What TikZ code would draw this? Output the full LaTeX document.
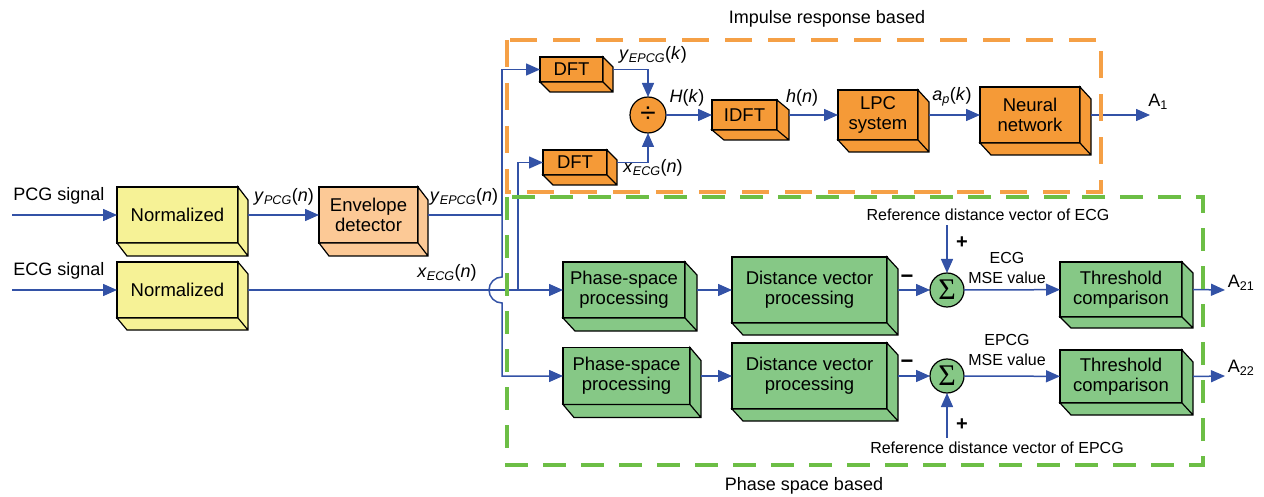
\documentclass[tikz,border=0pt]{standalone}
\usepackage{fontspec}
\setmainfont{Liberation Sans}
\newfontfamily\serifgreek{Liberation Serif}
\usetikzlibrary{arrows.meta}
\definecolor{pcgyellow}{RGB}{246,242,150}
\definecolor{envorange}{RGB}{252,201,150}
\definecolor{boxorange}{RGB}{245,154,55}
\definecolor{boxgreen}{RGB}{134,200,134}
\definecolor{flowblue}{RGB}{51,82,166}
\definecolor{dashorange}{RGB}{245,160,70}
\definecolor{dashgreen}{RGB}{108,190,69}
\newcommand{\sigl}[3]{\textit{#1}\textsubscript{\textit{#2}}(\textit{#3})}
\tikzset{
  blk/.style={draw, line width=1.2pt, fill=#1, inner sep=0pt, outer sep=0pt,
    align=center, font=\fontsize{18.5}{20}\selectfont},
  sumnode/.style={circle, draw, line width=1.2pt, fill=#1, inner sep=0pt, outer sep=0pt},
  flow/.style={draw=flowblue, line width=1.5pt, -{Triangle[length=14pt,width=12pt]}},
  wire/.style={draw=flowblue, line width=1.5pt},
  lbl/.style={inner sep=0pt, font=\fontsize{18}{20}\selectfont},
  small/.style={inner sep=4pt, align=center, font=\fontsize{16}{20}\selectfont},
  frameimp/.style={draw=dashorange, line width=4pt, dash pattern=on 27pt off 16pt},
  framephase/.style={draw=dashgreen, line width=4pt, dash pattern=on 23pt off 15pt}
}
\begin{document}
\begin{tikzpicture}[x=1pt, y=-1pt]
  \useasboundingbox (0,0) rectangle (1264,497);
  \node[blk=pcgyellow, minimum width=121pt, minimum height=56pt] (norm1) at (177.5,215) {Normalized};
  \node[blk=pcgyellow, minimum width=121pt, minimum height=56pt] (norm2) at (177.5,290) {Normalized};
  \node[blk=envorange, minimum width=99pt, minimum height=56pt] (env) at (368.5,215) {Envelope\\detector};
  \node[blk=boxorange, minimum width=63pt, minimum height=25pt] (dft1) at (571.5,69.5) {DFT};
  \node[blk=boxorange, minimum width=64pt, minimum height=25pt] (dft2) at (575,162.5) {DFT};
  \node[sumnode=boxorange, minimum size=36pt, font=\fontsize{28}{28}\selectfont] (div) at (648,115) {÷};
  \node[blk=boxorange, minimum width=65pt, minimum height=30pt] (idft) at (744.5,115) {IDFT};
  \node[blk=boxorange, minimum width=80pt, minimum height=50pt] (lpc) at (878,115) {LPC\\system};
  \node[blk=boxorange, minimum width=100pt, minimum height=56pt] (nn) at (1030,115) {Neural\\network};
  \node[blk=boxgreen, minimum width=122pt, minimum height=56pt] (ps1) at (624,290) {Phase-space\\processing};
  \node[blk=boxgreen, minimum width=127pt, minimum height=57pt] (ps2) at (626.5,376) {Phase-space\\processing};
  \node[blk=boxgreen, minimum width=155pt, minimum height=66pt] (dv1) at (809.5,290) {Distance vector\\processing};
  \node[blk=boxgreen, minimum width=155pt, minimum height=66pt] (dv2) at (809.5,376) {Distance vector\\processing};
  \node[sumnode=boxgreen, minimum size=34pt, font=\serifgreek\fontsize{30}{30}\selectfont] (sum1) at (947,290) {Σ};
  \node[sumnode=boxgreen, minimum size=34pt, font=\serifgreek\fontsize{30}{30}\selectfont] (sum2) at (947,376) {Σ};
  \node[blk=boxgreen, minimum width=122pt, minimum height=55pt] (th1) at (1121,289.5) {Threshold\\comparison};
  \node[blk=boxgreen, minimum width=122pt, minimum height=53pt] (th2) at (1121,376.5) {Threshold\\comparison};
  \foreach \bx/\col/\dx/\dy in {norm1/pcgyellow/10/13, norm2/pcgyellow/10/12, env/envorange/10/13,
      dft1/boxorange/10/10, dft2/boxorange/10/10, idft/boxorange/12/10, lpc/boxorange/11/12,
      nn/boxorange/11/12, ps1/boxgreen/12/13, ps2/boxgreen/11/13, dv1/boxgreen/11/12,
      dv2/boxgreen/11/12, th1/boxgreen/11/11, th2/boxgreen/11/12}
    \filldraw[line width=1.2pt, fill=\col] (\bx.north east) -- ++(\dx,\dy)
      -- ([shift={(\dx,\dy)}]\bx.south east) -- ([shift={(\dx,\dy)}]\bx.south west)
      -- (\bx.south west) -- (\bx.south east) -- cycle (\bx.south east) -- ++(\dx,\dy);

  \node[lbl] (pcglab) at (59,196) {PCG signal};
  \node[lbl] (ecglab) at (59,271) {ECG signal};
  \node[lbl] (ypcg) at (284,197) {\sigl{y}{PCG}{n}};
  \node[lbl] (yepcg) at (464,197) {\sigl{y}{EPCG}{n}};
  \node[lbl] (xecg) at (447,273) {\sigl{x}{ECG}{n}};
  \node[lbl] (yepcgk) at (653,55) {\sigl{y}{EPCG}{k}};
  \node[lbl] (xecgn) at (653,168) {\sigl{x}{ECG}{n}};
  \node[lbl] (hk) at (687,98) {\textit{H}(\textit{k})};
  \node[lbl] (hn) at (802,98) {\textit{h}(\textit{n})};
  \node[lbl] (apk) at (952,97) {\sigl{a}{p}{k}};
  \node[lbl] (aone) at (1158,102) {A\textsubscript{1}};
  \node[lbl] (atwoone) at (1241,283) {A\textsubscript{21}};
  \node[lbl] (atwotwo) at (1241,368) {A\textsubscript{22}};
  \node[small] (ref1) at (988,215) {Reference distance vector of ECG};
  \node[small] (ref2) at (997,448) {Reference distance vector of EPCG};
  \node[small, inner sep=0pt] (mse1) at (1007,268) {ECG\\MSE value};
  \node[small, inner sep=0pt] (mse2) at (1007,350) {EPCG\\MSE value};
  \node[lbl, font=\fontsize{22}{22}\selectfont\bfseries] (minus1) at (907,279) {−};
  \node[lbl, font=\fontsize{22}{22}\selectfont\bfseries] (minus2) at (907,364) {−};
  \node[lbl, font=\fontsize{20}{20}\selectfont\bfseries] (plus1) at (962,243) {+};
  \node[lbl, font=\fontsize{20}{20}\selectfont\bfseries] (plus2) at (962,425) {+};
  \node[lbl] (ttop) at (827,19) {Impulse response based};
  \node[lbl] (tbot) at (804,486) {Phase space based};

  \coordinate (pcgin) at (12,215);
  \coordinate (ecgin) at (12,290);
  \coordinate (split) at (502,215);
  \coordinate (hopT) at (502,277);
  \coordinate (xsplit) at (518,290);
  \coordinate (aoneend) at (1150,115);
  \coordinate (atwooneend) at (1225,290);
  \coordinate (atwotwoend) at (1225,376);

  \draw[flow] (pcgin) -- (norm1);
  \draw[flow] (ecgin) -- (norm2);
  \draw[flow] ([xshift=10pt]norm1.east) -- (env);
  \draw[wire] ([xshift=10pt]env.east) -- (split);
  \draw[flow] (split) |- (dft1);
  \draw[flow] (split) -- (hopT) arc[start angle=90, end angle=270, radius=13pt] |- (ps2);
  \draw[flow] ([xshift=10pt]norm2.east) -- (ps1);
  \draw[flow] (xsplit) |- (dft2);
  \draw[flow] ([xshift=10pt]dft1.east) -| (div);
  \draw[flow] ([xshift=10pt]dft2.east) -| (div);
  \draw[flow] (div) -- (idft);
  \draw[flow] ([xshift=12pt]idft.east) -- (lpc);
  \draw[flow] ([xshift=11pt]lpc.east) -- (nn);
  \draw[flow] ([xshift=11pt]nn.east) -- (aoneend);
  \draw[flow] ([xshift=12pt]ps1.east) -- (dv1);
  \draw[flow] ([xshift=11pt]ps2.east) -- (dv2);
  \draw[flow] ([xshift=11pt]dv1.east) -- (sum1);
  \draw[flow] ([xshift=11pt]dv2.east) -- (sum2);
  \draw[flow] (ref1.south -| sum1) -- (sum1);
  \draw[flow] (ref2.north -| sum2) -- (sum2);
  \draw[flow] (sum1) -- (th1);
  \draw[flow] (sum2) -- (th2);
  \draw[flow] ([xshift=11pt]th1.east) -- (atwooneend);
  \draw[flow] ([xshift=11pt]th2.east) -- (atwotwoend);

  \draw[frameimp] (507,40) rectangle (1101,192);
  \draw[framephase] (507,197) rectangle (1203,465);
\end{tikzpicture}
\end{document}
